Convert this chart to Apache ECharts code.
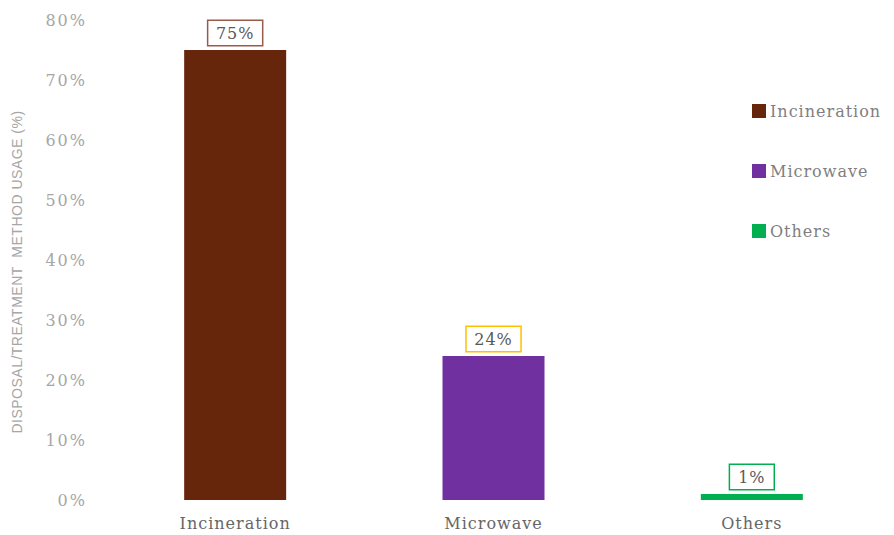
<!DOCTYPE html>
<html>
<head>
<meta charset="utf-8">
<script src="https://cdn.jsdelivr.net/npm/echarts@6/dist/echarts.min.js"></script>
<style>
  html, body { margin: 0; padding: 0; background: #fff; }
  #chart { width: 894px; height: 535px; }
  /* wide slab lettering for the chart texts */
  #chart svg text { letter-spacing: 1px; }
  #chart svg text[style*="Liberation Serif"] { letter-spacing: 2px; }
  #chart svg text[style*="Sans"] { letter-spacing: 0.5px; }
</style>
</head>
<body>
<div id="chart"></div>
<script>
// Disposal / treatment method usage shares
var categories = ['Incineration', 'Microwave', 'Others'];
var usageValues = [75, 24, 1];
var yTicks = [0, 10, 20, 30, 40, 50, 60, 70, 80];
var seriesColors = ['#65260C', '#7030A0', '#00B050'];
var labelBorders = ['#9A5A4A', '#FFC000', '#00B050'];

var slab = '"DejaVu Serif", serif';
var tickFont = '"DejaVu Serif", "Liberation Serif", serif';

var series = categories.map(function (name, i) {
  var data = categories.map(function (c, j) { return j === i ? usageValues[i] : '-'; });
  return {
    name: name,
    type: 'bar',
    stack: 'usage',
    barWidth: 102,
    data: data,
    itemStyle: { color: seriesColors[i] },
    label: {
      show: true,
      position: 'top',
      distance: 5,
      formatter: function (p) { return p.value + '%'; },
      color: '#595959',
      fontFamily: slab,
      fontSize: 16,
      lineHeight: 17,
      borderColor: labelBorders[i],
      borderWidth: 1.5,
      backgroundColor: '#fff',
      padding: [4, 9, 3, 9]
    }
  };
});

var chart = echarts.init(document.getElementById('chart'), null, { renderer: 'svg' });
chart.setOption({
  animation: false,
  grid: { left: 106, right: 13, top: 20, bottom: 35 },
  legend: {
    orient: 'vertical',
    left: 752,
    top: 103,
    padding: 0,
    itemWidth: 14,
    itemHeight: 14,
    itemGap: 44,
    icon: 'rect',
    data: categories,
    textStyle: { color: '#7f7f7f', fontFamily: slab, fontSize: 16, padding: [0, 0, 0, -1] }
  },
  xAxis: {
    type: 'category',
    data: categories,
    axisLine: { show: false },
    axisTick: { show: false },
    axisLabel: { color: '#666666', fontFamily: slab, fontSize: 16, margin: 15 }
  },
  yAxis: {
    type: 'value',
    min: yTicks[0],
    max: yTicks[yTicks.length - 1],
    interval: 10,
    name: 'DISPOSAL/TREATMENT  METHOD USAGE (%)',
    nameLocation: 'middle',
    nameGap: 82,
    nameTextStyle: {
      color: '#a6a6a6',
      fontFamily: '"Liberation Sans Narrow", "Liberation Sans", sans-serif',
      fontSize: 14,
      padding: [0, 24, 0, 0]
    },
    splitLine: { show: false },
    axisLine: { show: false },
    axisTick: { show: false },
    axisLabel: {
      color: '#a6a6a6',
      fontFamily: tickFont,
      fontSize: 16,
      margin: 19,
      formatter: function (v) { return v + '%'; }
    }
  },
  series: series
});
</script>
</body>
</html>
